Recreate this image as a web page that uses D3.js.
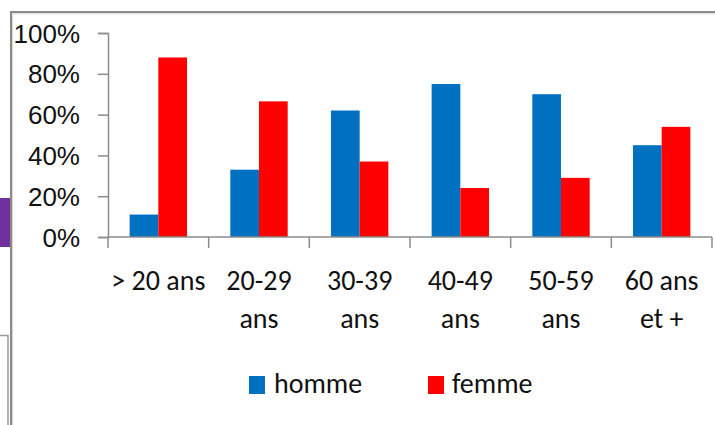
<!DOCTYPE html>
<html>
<head>
<meta charset="utf-8">
<script src="https://cdn.jsdelivr.net/npm/d3@7.9.0/dist/d3.min.js"></script>
<style>
  html, body { margin: 0; padding: 0; background: #fff; }
  svg { display: block; font-family: Carlito, Calibri, Lato, sans-serif; }
</style>
</head>
<body>
<script>
// Data
const categories = [["> 20 ans"], ["20-29", "ans"], ["30-39", "ans"], ["40-49", "ans"], ["50-59", "ans"], ["60 ans", "et +"]];
const homme = [0.11, 0.33, 0.62, 0.75, 0.70, 0.45];
const femme = [0.88, 0.665, 0.37, 0.24, 0.29, 0.54];
const seriesNames = ["homme", "femme"];
const yTicks = [0, 0.2, 0.4, 0.6, 0.8, 1.0];

const colors = { homme: "#0070C0", femme: "#FF0000" };
const width = 715, height = 425;
const margin = { top: 33, right: 3, bottom: 188, left: 108 };

const svg = d3.select("body").append("svg")
    .attr("width", width)
    .attr("height", height);

// Surrounding slide frame bits
svg.append("rect").attr("x", 0).attr("y", 198).attr("width", 10).attr("height", 49).attr("fill", "#7030A0");
svg.append("path").attr("d", "M0,335.5H8V425").attr("fill", "none").attr("stroke", "#9a9a9a").attr("stroke-width", 1.5);
svg.append("path").attr("d", `M11,425V12H${width}`).attr("fill", "none").attr("stroke", "#8a8a8a").attr("stroke-width", 2);
svg.append("path").attr("d", `M12.5,425V13.8H${width}`).attr("fill", "none").attr("stroke", "#d8d8d8").attr("stroke-width", 1);

const x0 = d3.scaleBand()
    .domain(d3.range(categories.length))
    .range([margin.left, width - margin.right])
    .paddingInner(0.43)
    .paddingOuter(0.215);

const x1 = d3.scaleBand()
    .domain(seriesNames)
    .range([0, x0.bandwidth()]);

const y = d3.scaleLinear()
    .domain([0, 1])
    .range([height - margin.bottom, margin.top]);

const axisColor = "#8c8c8c";
const textColor = "#111";

// Bars
const rows = categories.map((c, i) => ({ i, homme: homme[i], femme: femme[i] }));
const groups = svg.append("g").selectAll("g").data(rows).join("g")
    .attr("transform", d => `translate(${x0(d.i)},0)`);

groups.selectAll("rect")
    .data(d => seriesNames.map(k => ({ key: k, value: d[k] })))
    .join("rect")
    .attr("x", d => x1(d.key))
    .attr("y", d => y(d.value))
    .attr("width", x1.bandwidth())
    .attr("height", d => y(0) - y(d.value))
    .attr("fill", d => colors[d.key]);

// Y axis
const yAxis = svg.append("g")
    .attr("transform", `translate(${margin.left},0)`)
    .call(d3.axisLeft(y).tickValues(yTicks).tickFormat(d3.format(".0%")).tickSize(10).tickPadding(18));
yAxis.select(".domain").attr("stroke", axisColor).attr("stroke-width", 1.5);
yAxis.selectAll(".tick line").attr("stroke", axisColor).attr("stroke-width", 1.5);
yAxis.selectAll(".tick text")
    .attr("fill", textColor)
    .style("font-size", "26px")
    .attr("dy", "0.35em");

// X axis
const xBoundary = d3.scaleLinear()
    .domain([0, categories.length])
    .range([margin.left, width - margin.right]);
const xAxis = svg.append("g")
    .attr("transform", `translate(0,${height - margin.bottom})`);
xAxis.append("line")
    .attr("x1", xBoundary(0)).attr("x2", xBoundary(categories.length))
    .attr("stroke", axisColor).attr("stroke-width", 1.5);
xAxis.selectAll("line.tick").data(d3.range(categories.length + 1)).join("line")
    .attr("class", "tick")
    .attr("x1", d => xBoundary(d)).attr("x2", d => xBoundary(d))
    .attr("y1", 0).attr("y2", 11)
    .attr("stroke", axisColor).attr("stroke-width", 1.5);

const labels = xAxis.selectAll("text").data(categories).join("text")
    .attr("text-anchor", "middle")
    .attr("fill", textColor)
    .style("font-size", "28px");
labels.selectAll("tspan").data((d, i) => d.map(t => ({ t, i }))).join("tspan")
    .attr("x", d => x0(d.i) + x0.bandwidth() / 2)
    .attr("y", (d, j) => 53 + j * 38)
    .text(d => d.t);

// Legend
const legendItems = [
    { key: "homme", x: 249, tx: 274 },
    { key: "femme", x: 428, tx: 452 }
];
const legend = svg.append("g");
legend.selectAll("rect").data(legendItems).join("rect")
    .attr("x", d => d.x).attr("y", 376)
    .attr("width", 16).attr("height", 18)
    .attr("fill", d => colors[d.key]);
legend.selectAll("text").data(legendItems).join("text")
    .attr("x", d => d.tx).attr("y", 393)
    .attr("fill", textColor)
    .style("font-size", "28px")
    .text(d => d.key);
</script>
</body>
</html>
